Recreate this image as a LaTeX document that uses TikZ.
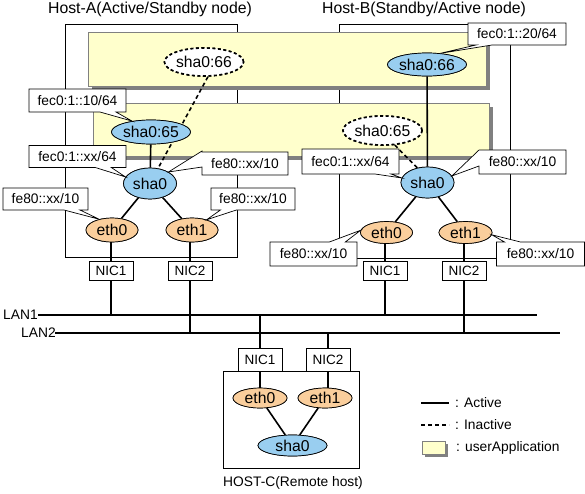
\documentclass[tikz,border=0pt]{standalone}
\usepackage{fontspec}
\setmainfont{Liberation Sans}
\usetikzlibrary{shapes.geometric,shapes.callouts}
\definecolor{shablue}{RGB}{153,206,240}
\definecolor{ethorange}{RGB}{250,206,156}
\definecolor{appyellow}{RGB}{255,255,204}
\definecolor{shadowgray}{RGB}{128,128,128}
\begin{document}
\begin{tikzpicture}[x=1pt,y=-1pt,
  hostbox/.style={draw=black,line width=0.8pt},
  appbox/.style={fill=appyellow,draw=shadowgray,line width=0.9pt},
  appshadow/.style={fill=shadowgray},
  ellbase/.style={ellipse,draw=black,line width=0.7pt,inner sep=0pt,font=\fontsize{15.7}{18}\selectfont},
  blueell/.style={ellbase,fill=shablue},
  orangeell/.style={ellbase,fill=ethorange},
  dashell/.style={ellbase,fill=white,line width=1.6pt,dash pattern=on 3pt off 2.5pt},
  nicbox/.style={rectangle,draw=black,fill=white,line width=0.7pt,minimum width=44pt,minimum height=19pt,inner sep=0pt,font=\fontsize{13.5}{16}\selectfont},
  addr/.style={rectangle callout,draw=black,fill=white,line width=0.7pt,inner sep=0pt,minimum height=23pt,callout pointer width=16pt,font=\fontsize{13.8}{16}\selectfont},
  link/.style={line width=1.6pt},
  lanline/.style={line width=1.6pt},
  inact/.style={line width=1.6pt,dash pattern=on 4pt off 3pt},
  txt/.style={inner sep=0pt,font=\fontsize{13.8}{16}\selectfont},
  title/.style={inner sep=0pt,font=\fontsize{15.8}{18}\selectfont}]
\useasboundingbox (0,0) rectangle (585,493);

% host boxes
\draw[hostbox] (65,24) rectangle (237,257);
\draw[hostbox] (339,24) rectangle (510,258);

% userApplication boxes
\fill[appshadow] (92,36) rectangle (490,90);
\draw[appbox] (88,32) rectangle (486,86);
\fill[appshadow] (97,107) rectangle (493,160);
\draw[appbox] (93,103) rectangle (489,156);

% LAN coordinates
\coordinate (lan1L) at (38,315);
\coordinate (lan1R) at (537,315);
\coordinate (lan2L) at (55,333);
\coordinate (lan2R) at (560,333);
\draw[lanline] (lan1L) -- (lan1R);
\draw[lanline] (lan2L) -- (lan2R);
\node[txt,anchor=west] (lan1t) at (3,315) {LAN1};
\node[txt,anchor=west] (lan2t) at (21,333) {LAN2};

% Host-A nodes
\node[dashell,minimum width=70pt,minimum height=28pt] (sha66A) at (204,62) {sha0:66};
\node[blueell,minimum width=72pt,minimum height=24pt] (sha65A) at (151,132) {sha0:65};
\node[blueell,minimum width=53pt,minimum height=31pt] (sha0A) at (150,183.5) {sha0};
\node[orangeell,minimum width=52pt,minimum height=24pt] (eth0A) at (112,230) {eth0};
\node[orangeell,minimum width=52pt,minimum height=24pt] (eth1A) at (192,230) {eth1};
\node[nicbox] (nic1A) at (111,270.5) {NIC1};
\node[nicbox] (nic2A) at (190,270.5) {NIC2};

% Host-B nodes
\node[blueell,minimum width=69pt,minimum height=23pt] (sha66B) at (427,64.5) {sha0:66};
\node[dashell,minimum width=70pt,minimum height=29pt] (sha65B) at (382.5,130.5) {sha0:65};
\node[blueell,minimum width=53pt,minimum height=31pt] (sha0B) at (427.5,182.5) {sha0};
\node[orangeell,minimum width=52pt,minimum height=22pt] (eth0B) at (386.5,232.5) {eth0};
\node[orangeell,minimum width=53pt,minimum height=22pt] (eth1B) at (465.5,232.5) {eth1};
\node[nicbox] (nic1B) at (385,271) {NIC1};
\node[nicbox] (nic2B) at (464,271) {NIC2};

% Host-C
\draw[hostbox] (223,371) rectangle (359,468);
\node[nicbox,minimum height=23pt] (nic1C) at (260,359.5) {NIC1};
\node[nicbox,minimum height=23pt] (nic2C) at (328,359.5) {NIC2};
\node[orangeell,minimum width=54pt,minimum height=20pt] (eth0C) at (260,398) {eth0};
\node[orangeell,minimum width=54pt,minimum height=20pt] (eth1C) at (325,398) {eth1};
\node[blueell,minimum width=69pt,minimum height=21pt] (sha0C) at (292.5,445.5) {sha0};
\node[txt] (hostCt) at (293,483) {HOST-C(Remote host)};

% connectors Host-A
\draw[inact] (sha66A.-75) -- (sha0A.62);
\draw[link] (sha65A) -- (sha0A);
\draw[link] (sha0A) -- (eth0A);
\draw[link] (sha0A) -- (eth1A);
\draw[link] (nic1A.north) -- (nic1A.north |- eth0A.south);
\draw[link] (nic2A.north) -- (nic2A.north |- eth1A.south);
\draw[lanline] (nic1A.south) -- (nic1A.south |- lan1L);
\draw[lanline] (nic2A.south) -- (nic2A.south |- lan2L);

% connectors Host-B
\draw[link] (sha66B) -- (sha0B);
\draw[inact] (sha65B.-50) -- (sha0B.125);
\draw[link] (sha0B) -- (eth0B);
\draw[link] (sha0B) -- (eth1B);
\draw[link] (nic1B.north) -- (nic1B.north |- eth0B.south);
\draw[link] (nic2B.north) -- (nic2B.north |- eth1B.south);
\draw[lanline] (nic1B.south) -- (nic1B.south |- lan1L);
\draw[lanline] (nic2B.south) -- (nic2B.south |- lan2L);

% connectors Host-C
\draw[lanline] (nic1C.north) -- (nic1C.north |- lan1L);
\draw[lanline] (nic2C.north) -- (nic2C.north |- lan2L);
\draw[link] (eth0C.north) -- (eth0C.north |- nic1C.south);
\draw[link] (nic2C.south) -- (nic2C.south |- eth1C.north);
\draw[link] (eth0C) -- (sha0C);
\draw[link] (eth1C) -- (sha0C);

% redraw ellipses on top of connectors
\node[dashell,minimum width=70pt,minimum height=28pt] at (sha66A) {sha0:66};
\node[blueell,minimum width=72pt,minimum height=24pt] at (sha65A) {sha0:65};
\node[blueell,minimum width=53pt,minimum height=31pt] at (sha0A) {sha0};
\node[orangeell,minimum width=52pt,minimum height=24pt] at (eth0A) {eth0};
\node[orangeell,minimum width=52pt,minimum height=24pt] at (eth1A) {eth1};
\node[blueell,minimum width=69pt,minimum height=23pt] at (sha66B) {sha0:66};
\node[dashell,minimum width=70pt,minimum height=29pt] at (sha65B) {sha0:65};
\node[blueell,minimum width=53pt,minimum height=31pt] at (sha0B) {sha0};
\node[orangeell,minimum width=52pt,minimum height=22pt] at (eth0B) {eth0};
\node[orangeell,minimum width=53pt,minimum height=22pt] at (eth1B) {eth1};
\node[orangeell,minimum width=54pt,minimum height=20pt] at (eth0C) {eth0};
\node[orangeell,minimum width=54pt,minimum height=20pt] at (eth1C) {eth1};
\node[blueell,minimum width=69pt,minimum height=21pt] at (sha0C) {sha0};

% address callouts
\node[addr,minimum width=97pt,callout absolute pointer={(sha65A.150)}] (a1) at (77.5,100.5) {fec0:1::10/64};
\node[addr,minimum width=97pt,minimum height=22pt,callout absolute pointer={(sha0A.165)}] (a2) at (77.5,156.5) {fec0:1::xx/64};
\node[addr,minimum width=86pt,callout absolute pointer={(sha0A.32)}] (a3) at (245,163.5) {fe80::xx/10};
\node[addr,minimum width=85pt,minimum height=22pt,callout absolute pointer={(eth0A.140)}] (a4) at (45.5,199) {fe80::xx/10};
\node[addr,minimum width=84pt,minimum height=22pt,callout absolute pointer={(eth1A.35)}] (a5) at (253,199) {fe80::xx/10};
\node[addr,minimum width=98pt,minimum height=22pt,callout absolute pointer={(sha66B.40)}] (a6) at (517,34) {fec0:1::20/64};
\node[addr,minimum width=97pt,minimum height=25pt,callout absolute pointer={(sha0B.170)}] (a7) at (350.5,161.5) {fec0:1::xx/64};
\node[addr,minimum width=87pt,minimum height=24pt,callout absolute pointer={(sha0B.15)}] (a8) at (522.5,162) {fe80::xx/10};
\node[addr,minimum width=87pt,minimum height=24pt,callout absolute pointer={(eth0B.175)}] (a9) at (313.5,254) {fe80::xx/10};
\node[addr,minimum width=88pt,minimum height=24pt,callout absolute pointer={(eth1B.-5)}] (a10) at (540.5,254) {fe80::xx/10};

% titles
\node[title] (tA) at (150,9) {Host-A(Active/Standby node)};
\node[title] (tB) at (424,9) {Host-B(Standby/Active node)};

% legend
\coordinate (l1a) at (421,403);
\coordinate (l1b) at (449,403);
\coordinate (l2a) at (421,425);
\coordinate (l2b) at (449,425);
\draw[link] (l1a) -- (l1b);
\draw[inact] (l2a) -- (l2b);
\node[txt,anchor=west] (lt1) at (455,403) {: Active};
\node[txt,anchor=west] (lt2) at (455,425) {: Inactive};
\fill[appshadow] (425,444) rectangle (448,457);
\draw[appbox] (422,441) rectangle (445,454);
\node[txt,anchor=west] (lt3) at (456,447.5) {: userApplication};
\end{tikzpicture}
\end{document}
